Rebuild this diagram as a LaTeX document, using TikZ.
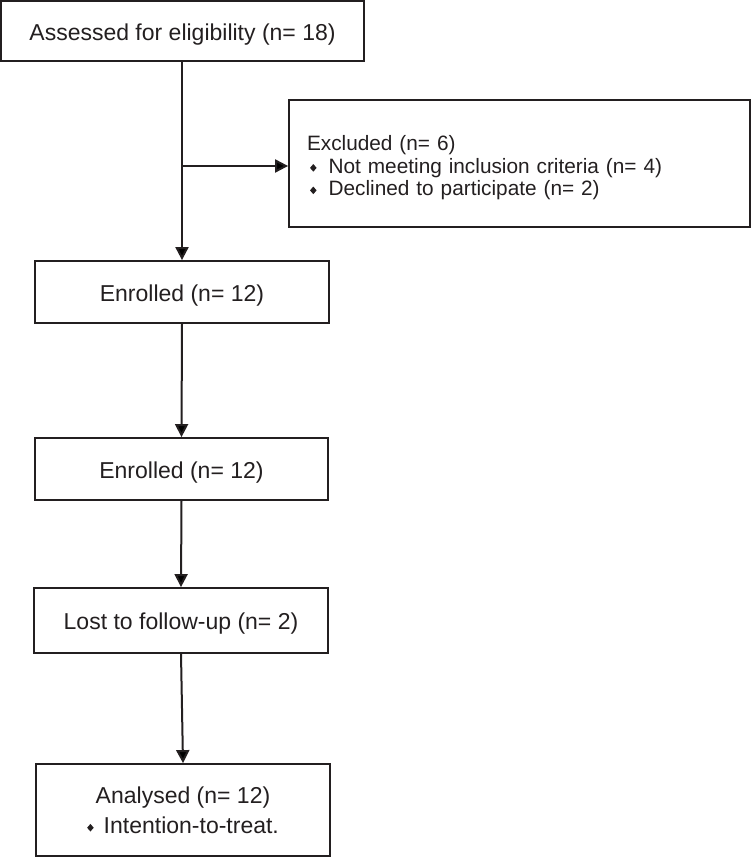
\documentclass[tikz,border=0pt]{standalone}
\usepackage{fontspec}
\setmainfont{Liberation Sans}
\usetikzlibrary{arrows.meta}
\definecolor{ink}{HTML}{231F20}
\newcommand{\dmd}{\tikz[baseline={(0,-5.5pt)}]\fill[ink] (0,3.8pt)--(3.3pt,0)--(0,-3.8pt)--(-3.3pt,0)--cycle;}
\begin{document}
\begin{tikzpicture}[x=1pt,y=1pt,
  box/.style={draw=ink,line width=1.8pt,rectangle,inner sep=0pt,text=ink,align=center,
    font=\fontsize{23}{30}\selectfont},
  oneline/.style={text height=18.5pt,text depth=0pt},
  arr/.style={draw=ink,line width=2pt,-{Triangle[width=13pt,length=13pt]}}]
\useasboundingbox (0,0) rectangle (751,857);
\node[box,oneline,minimum width=363pt,minimum height=60pt] (assess) at (182.5,826) {Assessed for eligibility (n= 18)};
\node[box,minimum width=461pt,minimum height=127pt] (excl) at (519.5,693.5) {};
\node[text=ink,inner sep=0pt,text width=425pt,align=left,anchor=center,
  font=\fontsize{20.8}{22.5}\selectfont] (excltxt) at ([yshift=-4.5pt]excl.center)
  {Excluded (n= 6)\\
   \hspace*{3pt}\dmd\hspace{12pt}Not meeting inclusion criteria (n= 4)\\
   \hspace*{3pt}\dmd\hspace{12pt}Declined to participate (n= 2)};
\node[box,oneline,minimum width=294pt,minimum height=62pt] (enr1) at (182,565) {Enrolled (n= 12)};
\node[box,oneline,minimum width=293pt,minimum height=62pt] (enr2) at (181.5,388) {Enrolled (n= 12)};
\node[box,oneline,minimum width=294pt,minimum height=65pt] (lost) at (181,236.5) {Lost to follow-up (n= 2)};
\node[box,minimum width=294pt,minimum height=92pt] (ana) at (183,47) {Analysed (n= 12)\\\dmd\hspace{10pt}Intention-to-treat.};
\coordinate (br) at (182,691);
\draw[arr] (assess.south -| br) -- (enr1.north -| br);
\draw[arr] (br) -- (br -| excl.west);
\draw[arr] (enr1.south) -- (enr2.north);
\draw[arr] (enr2.south) -- (lost.north);
\draw[arr] (lost.south) -- (ana.north);
\end{tikzpicture}
\end{document}
